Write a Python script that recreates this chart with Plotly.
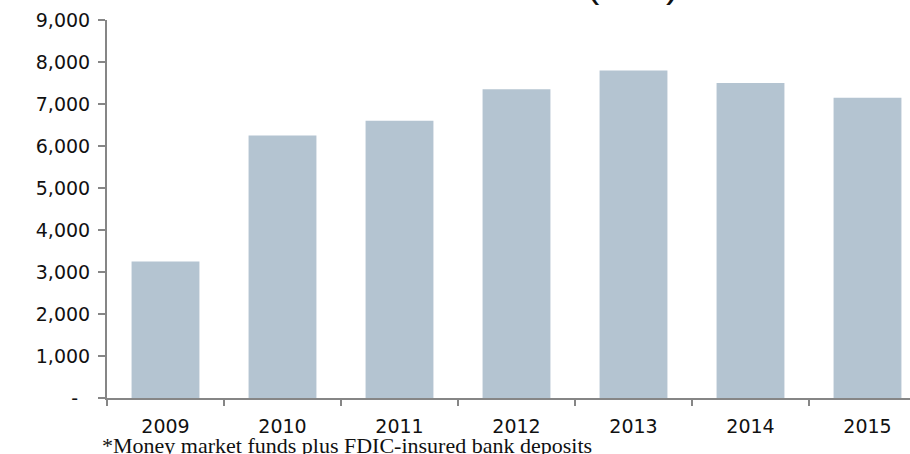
import plotly.graph_objects as go

# Year-end balances, $bn
years = ["2009", "2010", "2011", "2012", "2013", "2014", "2015"]
balances = [3250, 6250, 6600, 7350, 7800, 7500, 7150]

y_ticks = [0, 1000, 2000, 3000, 4000, 5000, 6000, 7000, 8000, 9000]
y_labels = ["-\u00a0\u00a0"] + [f"{v:,}" for v in y_ticks[1:]]

footnote = "*Money market funds plus FDIC-insured bank deposits"
title_text = "($bn)"

W, H = 910, 454
ML, MR, MT, MB = 107, 0, 20, 56
plot_w = W - ML - MR
plot_h = H - MT - MB
cat_px = 117.0  # width of one year slot

fig = go.Figure(
    go.Bar(
        x=years,
        y=balances,
        marker=dict(color="#b4c4d1", line=dict(width=0)),
        width=0.58,
        hoverinfo="x+y",
    )
)

axis_grey = "#868686"
tick_font = dict(family="DejaVu Sans", size=19, color="#111111")

fig.update_layout(
    width=W,
    height=H,
    margin=dict(l=ML, r=MR, t=MT, b=MB, pad=0),
    paper_bgcolor="white",
    plot_bgcolor="white",
    showlegend=False,
    xaxis=dict(
        type="category",
        range=[-0.5, -0.5 + plot_w / cat_px],
        tickson="boundaries",
        ticks="outside",
        ticklen=6,
        tickwidth=2,
        tickcolor=axis_grey,
        showline=True,
        linecolor=axis_grey,
        linewidth=2,
        showgrid=False,
        tickfont=tick_font,
        ticklabelstandoff=10,
    ),
    yaxis=dict(
        range=[0, 9000],
        tickvals=y_ticks,
        ticktext=y_labels,
        ticks="outside",
        ticklen=7,
        tickwidth=2,
        tickcolor=axis_grey,
        showline=True,
        linecolor=axis_grey,
        linewidth=2,
        showgrid=False,
        zeroline=False,
        tickfont=tick_font,
        ticklabelstandoff=4,
    ),
    annotations=[
        dict(
            text=footnote,
            xref="paper",
            yref="paper",
            x=-7 / plot_w,
            y=(398 - 445) / plot_h,
            xanchor="left",
            yanchor="middle",
            showarrow=False,
            font=dict(family="Liberation Serif", size=22, color="#111111"),
        ),
        dict(
            text=title_text,
            xref="paper",
            yref="paper",
            x=(632 - ML) / plot_w,
            y=(398 + 17) / plot_h,
            xanchor="center",
            yanchor="middle",
            showarrow=False,
            font=dict(family="Liberation Sans", size=40, color="#111111"),
        ),
    ],
)

fig.write_html("out.html")
